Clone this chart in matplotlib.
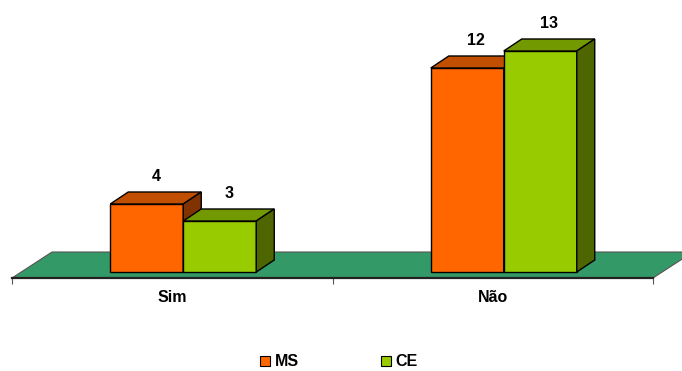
import matplotlib
matplotlib.use("Agg")
import matplotlib.pyplot as plt
from matplotlib.patches import Polygon, Patch

categories = ["Sim", "Não"]
series_names = ["MS", "CE"]
ms_values = [4, 12]
ce_values = [3, 13]

front_colors = ["#FF6600", "#99CC00"]
top_colors = ["#C04F00", "#739900"]
side_colors = ["#803300", "#4D6600"]
floor_color = "#339966"

plt.rcParams['font.family'] = ['Liberation Sans', 'DejaVu Sans']
FS = 11.5

W, H = 682, 371
fig = plt.figure(figsize=(W / 100, H / 100), dpi=100)
ax = fig.add_axes([12 / W, (H - 272) / H, (653 - 12) / W, 272 / H])
ax.set_xlim(-0.5, 1.5)
ax.set_ylim(0, 16)

# unit conversions (pixels -> data)
px_x = 2 / 641.0
px_y = 16 / 272.0

bar_w = 73 * px_x
group_shift = 11 * px_x
ddx, ddy = 18 * px_x, 12 * px_y          # bar depth
fdx, fdy = 40 * px_x, 26 * px_y          # floor depth
floor_front = -6 * px_y

# floor
floor = Polygon([(-0.5, floor_front), (1.5, floor_front),
                 (1.5 + fdx, floor_front + fdy), (-0.5 + fdx, floor_front + fdy)],
                closed=True, facecolor=floor_color, edgecolor="#555555",
                linewidth=0.8, clip_on=False, zorder=1)
ax.add_patch(floor)

series = [ms_values, ce_values]
for ci, cat in enumerate(categories):
    left0 = ci - bar_w + group_shift
    for si, vals in enumerate(series):
        v = vals[ci]
        x0 = left0 + si * bar_w
        x1 = x0 + bar_w
        z = 3 + si
        front = Polygon([(x0, 0), (x1, 0), (x1, v), (x0, v)], closed=True,
                        facecolor=front_colors[si], edgecolor="black", lw=1,
                        clip_on=False, zorder=z)
        top = Polygon([(x0, v), (x1, v), (x1 + ddx, v + ddy), (x0 + ddx, v + ddy)],
                      closed=True, facecolor=top_colors[si], edgecolor="black",
                      lw=1, clip_on=False, zorder=z)
        side = Polygon([(x1, 0), (x1 + ddx, ddy), (x1 + ddx, v + ddy), (x1, v)],
                       closed=True, facecolor=side_colors[si], edgecolor="black",
                       lw=1, clip_on=False, zorder=z)
        for p in (front, top, side):
            ax.add_patch(p)
        ax.annotate(str(v), xy=(x0 + bar_w / 2 + ddx / 2, v + ddy),
                    xytext=(0, 11), textcoords="offset points",
                    ha="center", va="center", fontsize=FS, fontweight="bold",
                    annotation_clip=False, zorder=10)

for s in ["top", "right", "left"]:
    ax.spines[s].set_visible(False)
ax.spines["bottom"].set_position(("data", floor_front))
ax.spines["bottom"].set_linewidth(1.6)
ax.spines["bottom"].set_color("#222222")
ax.spines["bottom"].set_zorder(2)
ax.set_yticks([])
ax.set_xticks([-0.5, 0.5, 1.5])
ax.set_xticklabels([])
ax.tick_params(axis="x", which="major", length=4, width=0.8, color="#555555")
ax.set_xticks([0, 1], minor=True)
ax.set_xticklabels(categories, minor=True, fontsize=FS, fontweight="bold")
ax.tick_params(axis="x", which="minor", length=0, pad=9)
ax.patch.set_visible(False)

handles = [Patch(facecolor=front_colors[i], edgecolor="black", lw=0.8)
           for i in range(2)]
fig.legend(handles, series_names, loc="center", bbox_to_anchor=(339 / W, (H - 362) / H),
           ncol=2, frameon=False, handlelength=0.65, handleheight=0.65,
           handletextpad=0.3, columnspacing=5.1,
           prop={"size": FS, "weight": "bold"})

fig.savefig("out.png", dpi=100)
